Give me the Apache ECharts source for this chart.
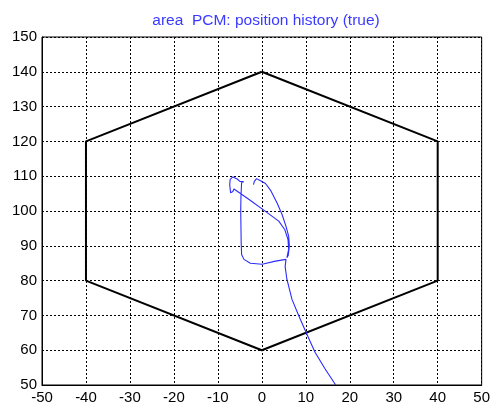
<!DOCTYPE html>
<html>
<head>
<meta charset="utf-8">
<script src="https://cdn.jsdelivr.net/npm/echarts@6/dist/echarts.min.js"></script>
<style>html,body{margin:0;padding:0;background:#fff}#c{width:493px;height:409px}</style>
</head>
<body>
<div id="c"></div>
<script>
const titleText = 'area  PCM: position history (true)';
const xTicks = [-50, 50, 10];
const yTicks = [50, 150, 10];
const hexagon = [[0,140],[40,120],[40,80],[0,60],[-40,80],[-40,120],[0,140]];
const trajectory = [
  [16.8,50],[14.4,54.6],[12.1,59.4],[10.25,64.6],[8.4,69.9],[6.86,74.6],[5.7,80.4],[5.3,84],[5.5,86.1],
  [3.1,85.6],[0.07,84.7],[-2.6,85.0],[-4.07,86.1],[-4.6,87.5],
  [-4.7,91],[-4.75,95.6],[-4.8,100],[-4.75,104],[-4.6,108.2],
  [-4.1,108.4],[-5.0,108.5],[-5.6,109.2],[-6.6,109.8],[-7.2,109.1],[-7.3,107.5],[-7.1,105.2],[-6.9,104.8],[-6.6,105.6],
  [-6.33,106.3],[-2.9,103.3],[0.83,99.9],[3.85,97.1],[5.2,94.7],[5.95,91.8],[6.1,89],[5.7,86.6],
  [6.0,87.2],[6.26,89.9],[6.1,92.8],[5.5,95.6],[4.6,99],[3.47,102.3],[1.96,106],[0.83,107.9],
  [-0.3,108.7],[-1.2,109.3],[-1.7,108.5],[-1.9,107.6]
];

const chart = echarts.init(document.getElementById('c'), null, {renderer: 'canvas'});
const font = '"Liberation Sans", Arial, sans-serif';
const axisCommon = {
  type: 'value',
  axisLine: {show: true, onZero: false, lineStyle: {color: '#000', width: 1}},
  axisTick: {show: false},
  axisLabel: {color: '#000', fontSize: 15, fontFamily: font, margin: 5, showMinLabel: true, showMaxLabel: true},
  splitLine: {show: true, lineStyle: {color: '#000', type: [2, 2], width: 1}}
};
chart.setOption({
  animation: false,
  backgroundColor: '#fff',
  title: {
    text: titleText, left: 261, top: 8, textAlign: 'center',
    textStyle: {color: '#3a3aff', fontSize: 15.5, fontWeight: 'normal', fontFamily: font}
  },
  grid: {left: 42, right: 9, top: 37, bottom: 24, show: true, borderColor: '#000', borderWidth: 1, containLabel: false},
  xAxis: Object.assign({}, axisCommon, {min: xTicks[0], max: xTicks[1], interval: xTicks[2]}),
  yAxis: Object.assign({}, axisCommon, {min: yTicks[0], max: yTicks[1], interval: yTicks[2]}),
  series: [
    {type: 'line', data: hexagon, symbol: 'none', lineStyle: {color: '#000', width: 2}, silent: true},
    {type: 'line', data: trajectory, symbol: 'none', lineStyle: {color: '#2b2bff', width: 1.1}, silent: true}
  ]
});
</script>
</body>
</html>
